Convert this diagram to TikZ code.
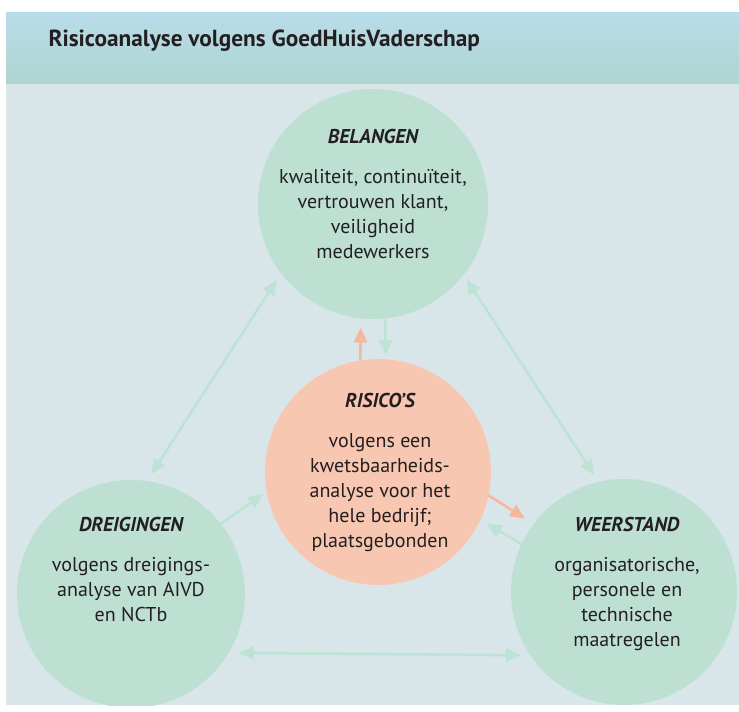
\documentclass[tikz,border=0pt]{standalone}
\usepackage{fontspec}
\setmainfont{PT Sans}
\usetikzlibrary{arrows.meta}
\definecolor{kopboven}{HTML}{B8DCEA}
\definecolor{koponder}{HTML}{AED6CF}
\definecolor{vlak}{HTML}{D8E6EA}
\definecolor{groen}{HTML}{BEE0D3}
\definecolor{oranje}{HTML}{F8C7B1}
\definecolor{groenpijl}{HTML}{BDE3D4}
\definecolor{oranjepijl}{HTML}{F6B79D}
\definecolor{inkt}{HTML}{231F20}
\tikzset{
  kring/.style={circle,inner sep=0pt,minimum size=#1},
  tekst/.style={align=center,inner sep=0pt,anchor=north,font=\fontsize{20}{25}\selectfont,text=inkt},
  pijl/.style={line width=2.6pt,-{Triangle[length=15pt,width=13pt]}},
  dubbel/.style={line width=2.6pt,{Triangle[length=15pt,width=13pt]}-{Triangle[length=15pt,width=13pt]}}
}
\newcommand{\kop}[1]{{\bfseries\itshape #1}\\[15pt]}
\begin{document}
\begin{tikzpicture}[x=1pt,y=1pt]
\useasboundingbox (0,0) rectangle (739,-712);
\fill[white] (0,0) rectangle (739,-712);
\fill[vlak] (6,-83) rectangle (739,-705);
\shade[top color=kopboven,bottom color=koponder] (6,-12) rectangle (739,-83);
\node[anchor=base west,font=\fontsize{23.3}{27}\selectfont\bfseries,text=inkt] (titel) at (45,-46) {Risicoanalyse volgens GoedHuisVaderschap};

\begin{scope}
\clip (6,-83) rectangle (739,-705);
\node[kring=230pt,fill=groen] (belangen) at (373,-204) {};
\node[kring=226pt,fill=oranje] (risicos) at (378,-472) {};
\node[kring=228pt,fill=groen] (dreigingen) at (131,-594) {};
\node[kring=226pt,fill=groen] (weerstand) at (624,-592) {};
\end{scope}

\node[tekst] (belangentekst) at (373,-129) {\kop{BELANGEN}kwaliteit, continuïteit,\\vertrouwen klant,\\veiligheid\\medewerkers};
\node[tekst] (risicostekst) at (380,-393) {\kop{RISICO’S}volgens een\\kwetsbaarheids-\\analyse voor het\\hele bedrijf;\\plaatsgebonden};
\node[tekst] (dreigingentekst) at (131,-517) {\kop{DREIGINGEN}volgens dreigings-\\analyse van AIVD\\en NCTb};
\node[tekst] (weerstandtekst) at (627,-517) {\kop{WEERSTAND}organisatorische,\\personele en\\technische\\maatregelen};

\draw[dubbel,groenpijl,shorten <=8pt,shorten >=8pt] (belangen.217) -- (dreigingen.82);
\draw[dubbel,groenpijl,shorten <=5pt,shorten >=8pt] (belangen.322) -- (weerstand.103);
\draw[dubbel,groenpijl,shorten <=10pt,shorten >=9pt] (dreigingen.329) -- (weerstand.214);
\draw[pijl,groenpijl,shorten >=4pt] (belangen.276) -- (risicos.86);
\draw[pijl,oranjepijl,shorten >=9pt] (risicos.99) -- (belangen.264);
\draw[pijl,groenpijl,shorten >=4pt] (dreigingen.38) -- (risicos.190);
\draw[pijl,oranjepijl,shorten >=10pt] (risicos.348) -- (weerstand.143);
\draw[pijl,groenpijl,shorten >=7pt] (weerstand.155) -- (risicos.335);
\end{tikzpicture}
\end{document}
